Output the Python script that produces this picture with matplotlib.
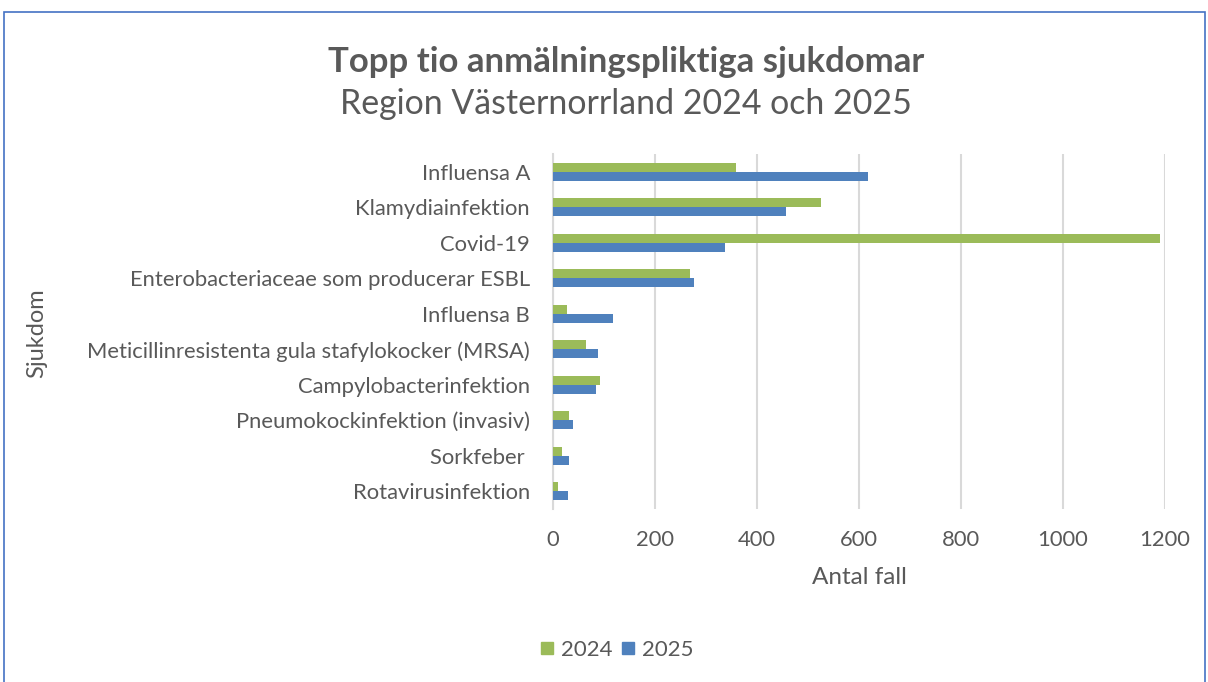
import matplotlib
matplotlib.use("Agg")
import matplotlib.pyplot as plt
from matplotlib.patches import Rectangle
from matplotlib.lines import Line2D
import numpy as np

categories = ["Influensa A", "Klamydiainfektion", "Covid-19",
              "Enterobacteriaceae som producerar ESBL", "Influensa B",
              "Meticillinresistenta gula stafylokocker (MRSA)",
              "Campylobacterinfektion", "Pneumokockinfektion (invasiv)",
              "Sorkfeber ", "Rotavirusinfektion"]
values_2024 = [358, 526, 1191, 269, 27, 65, 92, 32, 18, 10]
values_2025 = [617, 457, 337, 276, 118, 88, 84, 39, 32, 30]
xticks = [0, 200, 400, 600, 800, 1000, 1200]
series_labels = ['2024', '2025']

plt.rcParams['font.family'] = ['Lato', 'DejaVu Sans']
grey = '#595959'
green = '#9BBB59'
blue = '#4F81BD'

W, H = 1208, 682
fig = plt.figure(figsize=(W/100, H/100), dpi=100)
fig.patch.set_facecolor('white')

# outer border
fig.add_artist(Rectangle((4/W, -0.02), (1205-4)/W, 1 - 12/H + 0.02,
                         transform=fig.transFigure, fill=False,
                         edgecolor='#4472C4', linewidth=1.2))

ax = fig.add_axes([553/W, 1 - 509/H, (1165-553)/W, (509-154)/H])
n = len(categories)
y = np.arange(n)
h = 0.25
ax.barh(y - h/2, values_2024, height=h, color=green, label=series_labels[0], zorder=3)
ax.barh(y + h/2, values_2025, height=h, color=blue, label=series_labels[1], zorder=3)
ax.set_ylim(n - 0.5, -0.5)
ax.set_xlim(0, 1200)
ax.set_yticks(y)
ax.set_yticklabels(categories, fontsize=15.8, color=grey)
ax.set_xticks(xticks)
ax.set_xticklabels([str(v) for v in xticks], fontsize=15.8, color=grey)
ax.tick_params(axis='both', length=0)
ax.tick_params(axis='y', pad=16.5)
ax.tick_params(axis='x', pad=15)
for s in ['top', 'right', 'bottom']:
    ax.spines[s].set_visible(False)
ax.spines['left'].set_color('#D9D9D9')
ax.spines['left'].set_linewidth(1.5)
ax.grid(axis='x', color='#D9D9D9', linewidth=1.5, zorder=0)
ax.set_axisbelow(True)

ax.set_xlabel('Antal fall', fontsize=17.5, color=grey, labelpad=12)
fig.text(37/W, 1 - 333/H, 'Sjukdom', rotation=90, fontsize=17, color=grey,
         ha='center', va='center')

fig.text(626/W, 1 - 62/H, 'Topp tio anmälningspliktiga sjukdomar', fontsize=25,
         fontweight='bold', color=grey, ha='center', va='center')
fig.text(626/W, 1 - 104/H, 'Region Västernorrland 2024 och 2025', fontsize=24.4,
         color=grey, ha='center', va='center')

handles = [Line2D([], [], marker='s', linestyle='', markersize=9, color=c)
           for c in (green, blue)]
fig.legend(handles, series_labels, loc='center', bbox_to_anchor=(617/W, 1 - 650/H),
           ncol=2, frameon=False, fontsize=16, labelcolor=grey,
           handlelength=0.55, handletextpad=0.35, columnspacing=0.45)

fig.savefig('out.png', dpi=100)
